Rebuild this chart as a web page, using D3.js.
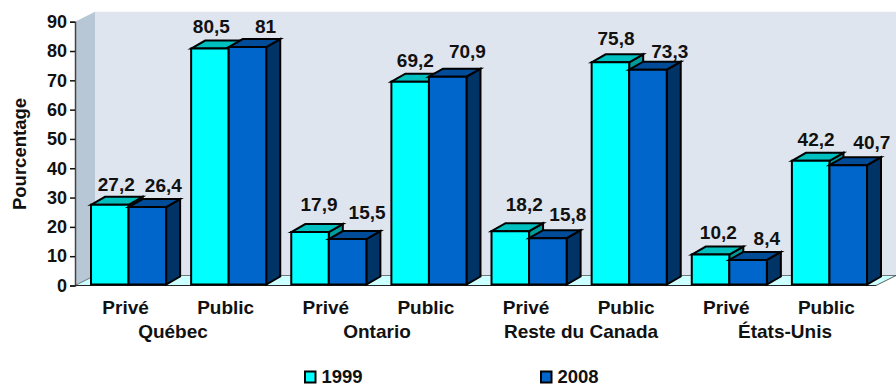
<!DOCTYPE html>
<html><head><meta charset="utf-8">
<script src="https://cdn.jsdelivr.net/npm/d3@7"></script>
<style>html,body{margin:0;padding:0;background:#fff}svg{display:block}text{font-family:"Liberation Sans",Arial,sans-serif;font-weight:bold;fill:#111}</style>
</head><body><svg id="c" width="896" height="387"></svg>
<script>
const regions = ["Québec","Ontario","Reste du Canada","États-Unis"];
const sectors = ["Privé","Public"];
const values1999 = [27.2,80.5,17.9,69.2,18.2,75.8,10.2,42.2];
const values2008 = [26.4,81,15.5,70.9,15.8,73.3,8.4,40.7];
const labels1999 = ["27,2","80,5","17,9","69,2","18,2","75,8","10,2","42,2"];
const labels2008 = ["26,4","81","15,5","70,9","15,8","73,3","8,4","40,7"];
const yTicks = [0,10,20,30,40,50,60,70,80,90];

const svg = d3.select("#c");
const L=75,R=876,T=21.7,B=285.5,DX=20,DY=10,bx=14,by=8;
const cats = d3.range(8);
const y = d3.scaleLinear().domain([0,90]).range([B,T]);
const x = d3.scaleBand().domain(cats).range([78.5,879.5]).paddingInner(0.25).paddingOuter(0.125);
const xRegion = d3.scalePoint().domain(regions).range([173,785]);
const w = x.bandwidth()/2;
const poly = (pts,fill,sw=0)=>svg.append("polygon").attr("points",pts.map(p=>p.join(",")).join(" ")).attr("fill",fill)
  .attr("stroke",sw?"#000":"none").attr("stroke-width",sw).attr("stroke-linejoin","miter");

poly([[L+DX,B-DY],[L+DX,T-DY],[896,T-DY],[896,B-DY]],"#DEE5EF");
poly([[L,B],[L,T],[L+DX,T-DY],[L+DX,B-DY]],"#B8C7D6");
poly([[L,B],[L+DX,B-DY],[896,B-DY],[R,B]],"#CCFFFF");
svg.append("path").attr("d",`M${L},${B}L${L+DX},${B-DY}H896`).attr("fill","none").attr("stroke","#555").attr("stroke-width",.8);
svg.append("path").attr("d",`M${R},${B}L896,${B-DY}`).attr("fill","none").attr("stroke","#333").attr("stroke-width",.8);

const axis = d3.axisLeft(y).tickValues(yTicks).tickSize(5).tickPadding(3);
const gy = svg.append("g").attr("transform",`translate(${L},0)`).call(axis);
gy.select(".domain").attr("stroke","#444").attr("stroke-width",1.5);
gy.selectAll(".tick line").attr("stroke","#111").attr("stroke-width",1.5);
gy.selectAll("text").attr("font-size",18).style("font-family",'"Liberation Sans"').style("font-weight","bold").attr("fill","#111");
svg.append("line").attr("x1",L).attr("x2",R).attr("y1",B).attr("y2",B).attr("stroke","#222").attr("stroke-width",1.2);

function bar(i,v,off,front,top,side){
  const x0=x(i)+off, x1=x0+w, y1=y(v)-1, y0=B-1;
  poly([[x1,y0],[x1,y1],[x1+bx,y1-by],[x1+bx,y0-by]],side,2);
  poly([[x0,y1],[x0+bx,y1-by],[x1+bx,y1-by],[x1,y1]],top,2);
  poly([[x0,y0],[x0,y1],[x1,y1],[x1,y0]],front,2);
}
cats.forEach(i=>{
  bar(i,values1999[i],0,"#00FFFF","#00BFBF","#009C9C");
  bar(i,values2008[i],w,"#0066CC","#004C99","#003366");
});
const lab=(t,xx,yy,s,a="middle")=>svg.append("text").attr("x",xx).attr("y",yy).attr("font-size",s).attr("text-anchor",a).text(t);
// hand-placed label offsets of the original, relative to each bar
const nudge1999 = [[6.5,-15.1],[1.4,-16.2],[9,-22.3],[5.2,-16],[14,-21.5],[5.6,-18.3],[7.8,-16.3],[5.4,-16.1]];
const nudge2008 = [[16,-15.8],[18,-14.8],[19.5,-21.1],[19.7,-20],[20,-18.5],[21.8,-12.3],[18.7,-15.9],[23.6,-17.2]];
cats.forEach(i=>{
  lab(labels1999[i],x(i)+w/2+nudge1999[i][0],y(values1999[i])+nudge1999[i][1],19);
  lab(labels2008[i],x(i)+w*1.5+nudge2008[i][0],y(values2008[i])+nudge2008[i][1],19);
  lab(sectors[i%2],x(i)+w-3,313.5,19);
});
regions.forEach(r=>lab(r,xRegion(r),338.3,19));
svg.append("text").attr("transform","translate(26,154) rotate(-90)").attr("text-anchor","middle").attr("font-size",18.5).text("Pourcentage");
[["1999","#00FFFF",305],["2008","#0066CC",541]].forEach(([t,c,lx])=>{
  svg.append("rect").attr("x",lx).attr("y",371.5).attr("width",10.5).attr("height",11).attr("fill",c).attr("stroke","#000").attr("stroke-width",2);
  lab(t,lx+16.5,383,18.5,"start");
});
</script></body></html>
